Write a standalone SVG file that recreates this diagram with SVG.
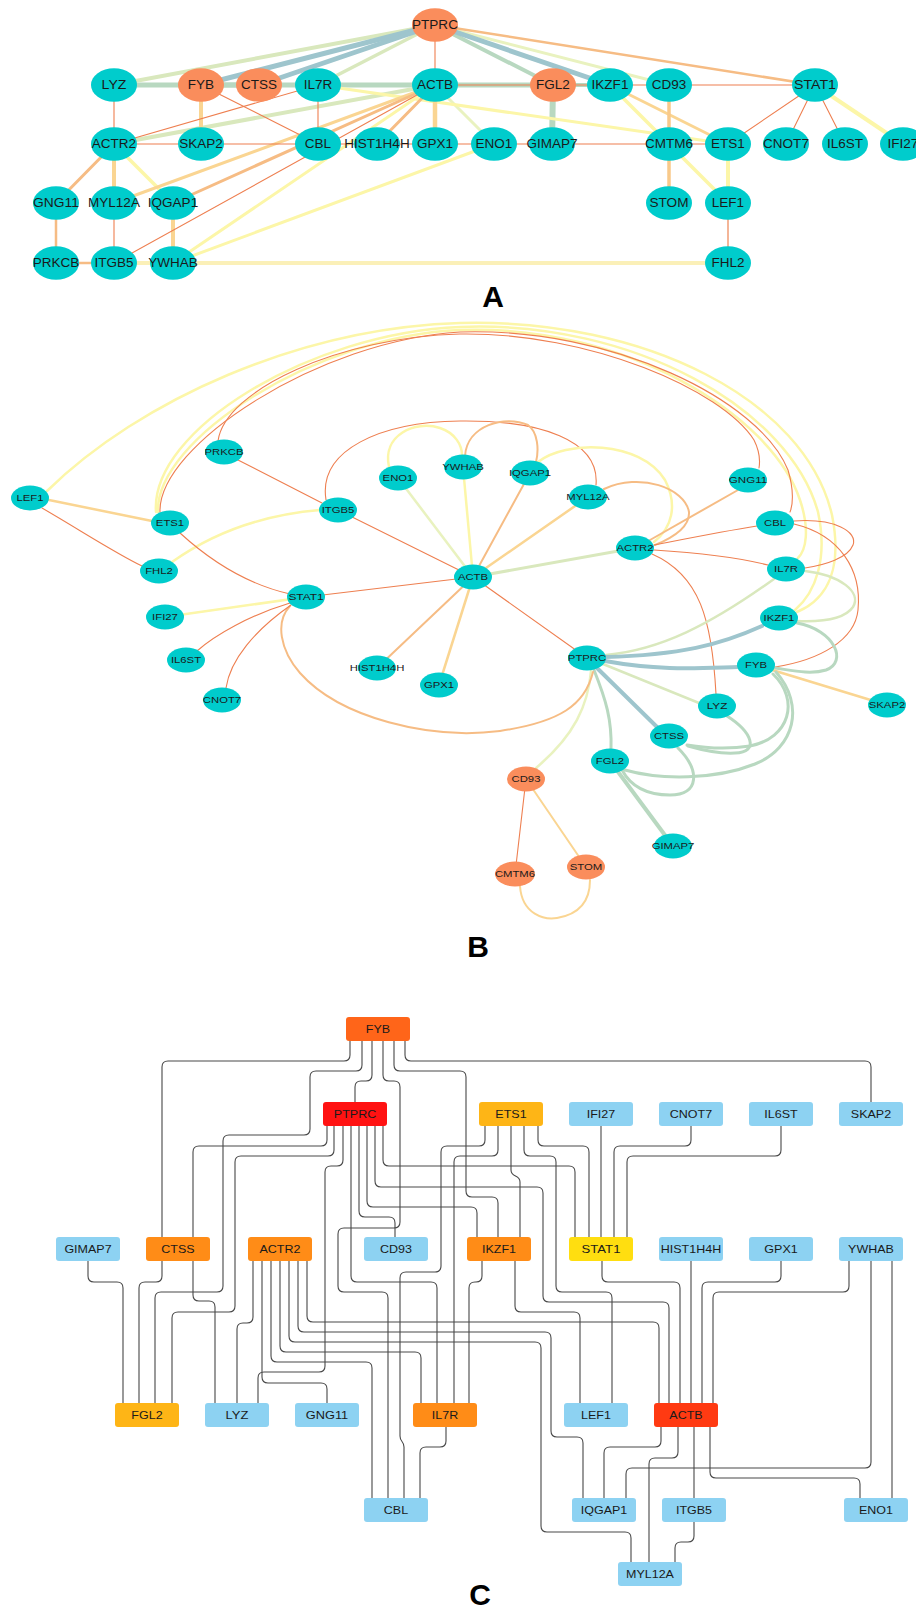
<svg xmlns="http://www.w3.org/2000/svg" width="916" height="1608" viewBox="0 0 916 1608">
<style>
.bg{fill:#ffffff}
.t{fill:#1a1a1a;text-anchor:middle;font-family:'Liberation Sans',Arial,sans-serif}
.ta{font-size:12px}
.tb{font-size:8.5px}
.tc{font-size:11px}
.lab{font-family:'Liberation Sans',Arial,sans-serif;font-weight:bold;font-size:30px;text-anchor:middle;fill:#000}
.nt{fill:#00CCCC}
.no{fill:#FA8D5C}
.e{fill:none;stroke-linecap:round}
.eb{stroke:#9EC5CD}
.eg{stroke:#B8D8C0}
.el{stroke:#D9E8BD}
.ey{stroke:#E9F2BF}
.ew{stroke:#FCF6A8}
.eo{stroke:#FAD592}
.ep{stroke:#F6BC84}
.et{stroke:#EE7F50;stroke-width:1.1}
.ce{fill:none;stroke:#484848;stroke-width:1.1}
.r1{fill:#FF6519}
.r2{fill:#FF1212}
.r3{fill:#FEB516}
.r4{fill:#FF8C17}
.r5{fill:#FFDE10}
.r6{fill:#FF3A12}
.r7{fill:#8DD2F2}
</style>
<rect class="bg" x="0" y="0" width="916" height="1608"/>

<!-- ================= PANEL A ================= -->
<g id="a-edges" class="e">
<line class="ep" x1="56" y1="203" x2="56" y2="263" stroke-width="2.5"/>
<line class="ep" x1="56" y1="263" x2="114" y2="263" stroke-width="2.5"/>
<line class="ew" x1="114" y1="263" x2="728" y2="263" stroke-width="4" style="stroke:#FBF0B8"/>
<line class="eo" x1="173" y1="203" x2="173" y2="263" stroke-width="4"/>
<line class="eg" x1="114" y1="85" x2="259" y2="85" stroke-width="5"/>
<line class="eg" x1="201" y1="85" x2="553" y2="85" stroke-width="5"/>
<line class="eg" x1="201" y1="85" x2="610" y2="85" stroke-width="4"/>
<line class="eg" x1="553" y1="85" x2="552" y2="144" stroke-width="6"/>
<line class="el" x1="435" y1="25" x2="114" y2="85" stroke-width="4"/>
<line class="el" x1="435" y1="25" x2="318" y2="85" stroke-width="3.5"/>
<line class="eg" x1="435" y1="25" x2="553" y2="85" stroke-width="4"/>
<line class="ey" x1="435" y1="25" x2="669" y2="85" stroke-width="3"/>
<line class="eb" x1="435" y1="25" x2="201" y2="85" stroke-width="5"/>
<line class="eb" x1="435" y1="25" x2="259" y2="85" stroke-width="5"/>
<line class="eb" x1="435" y1="25" x2="610" y2="85" stroke-width="5"/>
<line class="ep" x1="435" y1="25" x2="815" y2="85" stroke-width="2.5"/>
<line class="el" x1="114" y1="144" x2="435" y2="85" stroke-width="4"/>
<line class="ey" x1="435" y1="85" x2="494" y2="144" stroke-width="3"/>
<line class="ew" x1="318" y1="85" x2="728" y2="144" stroke-width="3"/>
<line class="ew" x1="610" y1="85" x2="728" y2="203" stroke-width="3.5"/>
<line class="eo" x1="610" y1="85" x2="728" y2="144" stroke-width="3"/>
<line class="ew" x1="728" y1="144" x2="728" y2="203" stroke-width="4"/>
<line class="ew" x1="815" y1="85" x2="903" y2="144" stroke-width="4"/>
<line class="ew" x1="114" y1="144" x2="173" y2="203" stroke-width="3.5"/>
<line class="ew" x1="435" y1="85" x2="173" y2="263" stroke-width="3"/>
<line class="ew" x1="173" y1="263" x2="494" y2="144" stroke-width="3"/>
<line class="eo" x1="201" y1="85" x2="201" y2="144" stroke-width="4"/>
<line class="eo" x1="435" y1="85" x2="435" y2="144" stroke-width="4.5"/>
<line class="eo" x1="114" y1="144" x2="114" y2="203" stroke-width="4"/>
<line class="eo" x1="435" y1="85" x2="114" y2="203" stroke-width="3"/>
<line class="eo" x1="669" y1="85" x2="669" y2="203" stroke-width="3.5" style="stroke:#F8C98A"/>
<line class="ep" x1="435" y1="85" x2="377" y2="144" stroke-width="3"/>
<line class="ep" x1="435" y1="85" x2="173" y2="203" stroke-width="3"/>
<line class="ep" x1="114" y1="144" x2="56" y2="203" stroke-width="3"/>
<line class="et" x1="435" y1="25" x2="435" y2="85"/>
<line class="et" x1="201" y1="85" x2="318" y2="144"/>
<line class="et" x1="318" y1="144" x2="728" y2="144"/>
<line class="et" x1="728" y1="144" x2="815" y2="85"/>
<line class="et" x1="786" y1="144" x2="815" y2="85"/>
<line class="et" x1="845" y1="144" x2="815" y2="85"/>
<line class="et" x1="114" y1="144" x2="114" y2="85"/>
<line class="et" x1="114" y1="144" x2="318" y2="144"/>
<line class="et" x1="114" y1="144" x2="318" y2="85"/>
<line class="et" x1="318" y1="85" x2="318" y2="144"/>
<line class="et" x1="435" y1="85" x2="815" y2="85"/>
<line class="et" x1="435" y1="85" x2="114" y2="263"/>
<line class="et" x1="114" y1="263" x2="114" y2="203"/>
<line class="et" x1="728" y1="203" x2="728" y2="263" style="stroke:#F2A37E;stroke-width:1.6"/>
</g>

<g id="a-ptprc"><ellipse class="no" cx="435" cy="25" rx="23" ry="16.7"/><text class="t ta" x="435" y="29.3" textLength="45.8" lengthAdjust="spacingAndGlyphs">PTPRC</text></g>
<g id="a-lyz"><ellipse class="nt" cx="114" cy="85" rx="23" ry="16.7"/><text class="t ta" x="114" y="89.3" textLength="24.8" lengthAdjust="spacingAndGlyphs">LYZ</text></g>
<g id="a-fyb"><ellipse class="no" cx="201" cy="85" rx="23" ry="16.7"/><text class="t ta" x="201" y="89.3" textLength="26.3" lengthAdjust="spacingAndGlyphs">FYB</text></g>
<g id="a-ctss"><ellipse class="no" cx="259" cy="85" rx="23" ry="16.7"/><text class="t ta" x="259" y="89.3" textLength="36" lengthAdjust="spacingAndGlyphs">CTSS</text></g>
<g id="a-il7r"><ellipse class="nt" cx="318" cy="85" rx="23" ry="16.7"/><text class="t ta" x="318" y="89.3" textLength="28.5" lengthAdjust="spacingAndGlyphs">IL7R</text></g>
<g id="a-actb"><ellipse class="nt" cx="435" cy="85" rx="23" ry="16.7"/><text class="t ta" x="435" y="89.3" textLength="36" lengthAdjust="spacingAndGlyphs">ACTB</text></g>
<g id="a-fgl2"><ellipse class="no" cx="553" cy="85" rx="23" ry="16.7"/><text class="t ta" x="553" y="89.3" textLength="33.8" lengthAdjust="spacingAndGlyphs">FGL2</text></g>
<g id="a-ikzf1"><ellipse class="nt" cx="610" cy="85" rx="23" ry="16.7"/><text class="t ta" x="610" y="89.3" textLength="36.8" lengthAdjust="spacingAndGlyphs">IKZF1</text></g>
<g id="a-cd93"><ellipse class="nt" cx="669" cy="85" rx="23" ry="16.7"/><text class="t ta" x="669" y="89.3" textLength="34.5" lengthAdjust="spacingAndGlyphs">CD93</text></g>
<g id="a-stat1"><ellipse class="nt" cx="815" cy="85" rx="23" ry="16.7"/><text class="t ta" x="815" y="89.3" textLength="42" lengthAdjust="spacingAndGlyphs">STAT1</text></g>
<g id="a-actr2"><ellipse class="nt" cx="114" cy="144" rx="23" ry="16.7"/><text class="t ta" x="114" y="148.3" textLength="44.3" lengthAdjust="spacingAndGlyphs">ACTR2</text></g>
<g id="a-skap2"><ellipse class="nt" cx="201" cy="144" rx="23" ry="16.7"/><text class="t ta" x="201" y="148.3" textLength="43.5" lengthAdjust="spacingAndGlyphs">SKAP2</text></g>
<g id="a-cbl"><ellipse class="nt" cx="318" cy="144" rx="23" ry="16.7"/><text class="t ta" x="318" y="148.3" textLength="26.3" lengthAdjust="spacingAndGlyphs">CBL</text></g>
<g id="a-hist1h4h"><ellipse class="nt" cx="377" cy="144" rx="23" ry="16.7"/><text class="t ta" x="377" y="148.3" textLength="65.3" lengthAdjust="spacingAndGlyphs">HIST1H4H</text></g>
<g id="a-gpx1"><ellipse class="nt" cx="435" cy="144" rx="23" ry="16.7"/><text class="t ta" x="435" y="148.3" textLength="36" lengthAdjust="spacingAndGlyphs">GPX1</text></g>
<g id="a-eno1"><ellipse class="nt" cx="494" cy="144" rx="23" ry="16.7"/><text class="t ta" x="494" y="148.3" textLength="36.8" lengthAdjust="spacingAndGlyphs">ENO1</text></g>
<g id="a-gimap7"><ellipse class="nt" cx="552" cy="144" rx="23" ry="16.7"/><text class="t ta" x="552" y="148.3" textLength="51" lengthAdjust="spacingAndGlyphs">GIMAP7</text></g>
<g id="a-cmtm6"><ellipse class="nt" cx="669" cy="144" rx="23" ry="16.7"/><text class="t ta" x="669" y="148.3" textLength="48" lengthAdjust="spacingAndGlyphs">CMTM6</text></g>
<g id="a-ets1"><ellipse class="nt" cx="728" cy="144" rx="23" ry="16.7"/><text class="t ta" x="728" y="148.3" textLength="33.8" lengthAdjust="spacingAndGlyphs">ETS1</text></g>
<g id="a-cnot7"><ellipse class="nt" cx="786" cy="144" rx="23" ry="16.7"/><text class="t ta" x="786" y="148.3" textLength="45.8" lengthAdjust="spacingAndGlyphs">CNOT7</text></g>
<g id="a-il6st"><ellipse class="nt" cx="845" cy="144" rx="23" ry="16.7"/><text class="t ta" x="845" y="148.3" textLength="36" lengthAdjust="spacingAndGlyphs">IL6ST</text></g>
<g id="a-ifi27"><ellipse class="nt" cx="903" cy="144" rx="23" ry="16.7"/><text class="t ta" x="903" y="148.3" textLength="30.8" lengthAdjust="spacingAndGlyphs">IFI27</text></g>
<g id="a-gng11"><ellipse class="nt" cx="56" cy="203" rx="23" ry="16.7"/><text class="t ta" x="56" y="207.3" textLength="45.8" lengthAdjust="spacingAndGlyphs">GNG11</text></g>
<g id="a-myl12a"><ellipse class="nt" cx="114" cy="203" rx="23" ry="16.7"/><text class="t ta" x="114" y="207.3" textLength="51.8" lengthAdjust="spacingAndGlyphs">MYL12A</text></g>
<g id="a-iqgap1"><ellipse class="nt" cx="173" cy="203" rx="23" ry="16.7"/><text class="t ta" x="173" y="207.3" textLength="50.3" lengthAdjust="spacingAndGlyphs">IQGAP1</text></g>
<g id="a-stom"><ellipse class="nt" cx="669" cy="203" rx="23" ry="16.7"/><text class="t ta" x="669" y="207.3" textLength="39" lengthAdjust="spacingAndGlyphs">STOM</text></g>
<g id="a-lef1"><ellipse class="nt" cx="728" cy="203" rx="23" ry="16.7"/><text class="t ta" x="728" y="207.3" textLength="32.3" lengthAdjust="spacingAndGlyphs">LEF1</text></g>
<g id="a-prkcb"><ellipse class="nt" cx="56" cy="263" rx="23" ry="16.7"/><text class="t ta" x="56" y="267.3" textLength="46.5" lengthAdjust="spacingAndGlyphs">PRKCB</text></g>
<g id="a-itgb5"><ellipse class="nt" cx="114" cy="263" rx="23" ry="16.7"/><text class="t ta" x="114" y="267.3" textLength="39" lengthAdjust="spacingAndGlyphs">ITGB5</text></g>
<g id="a-ywhab"><ellipse class="nt" cx="173" cy="263" rx="23" ry="16.7"/><text class="t ta" x="173" y="267.3" textLength="49.5" lengthAdjust="spacingAndGlyphs">YWHAB</text></g>
<g id="a-fhl2"><ellipse class="nt" cx="728" cy="263" rx="23" ry="16.7"/><text class="t ta" x="728" y="267.3" textLength="33" lengthAdjust="spacingAndGlyphs">FHL2</text></g>
<text class="lab" x="493" y="307">A</text>

<!-- ================= PANEL B ================= -->
<g id="b-edges" class="e">
<path class="ew" stroke-width="2.5" d="M47,491 C140,400 300,328 460,323 C645,318 805,400 832,515 C842,565 830,598 797,612"/>
<path class="ew" stroke-width="2.5" d="M156,512 C150,430 310,333 460,327 C635,320 790,410 818,512 C828,558 816,592 795,610"/>
<path class="ew" stroke-width="2.5" d="M158,512 C155,440 315,336 460,330 C625,324 772,415 800,500 C810,530 806,550 798,558"/>
<path class="et" d="M160,512 C158,445 320,340 460,332 C612,327 760,400 788,470 C794,490 793,505 790,512"/>
<path class="et" d="M218,441 C225,390 340,337 460,334 C590,332 722,390 754,440 C760,452 760,462 759,468"/>
<path class="eo" stroke-width="2.5" d="M49,500 L152,521"/>
<path class="et" d="M42,508 C80,530 115,553 142,566"/>
<path class="ew" stroke-width="2.5" d="M172,562 C210,535 260,515 320,510"/>
<path class="et" d="M238,460 L322,503"/>
<path class="et" d="M338,510 L473,577"/>
<path class="et" d="M326,500 C318,450 380,422 460,421 C540,420 600,440 596,485"/>
<path class="ey" stroke-width="2.5" d="M398,478 L473,577"/>
<path class="ew" stroke-width="2.5" d="M389,467 C382,435 415,420 440,428 C455,433 462,445 462,455"/>
<path class="ew" stroke-width="2.5" d="M463,467 L473,577"/>
<path class="ep" stroke-width="2" d="M465,456 C467,425 505,415 528,425 C538,432 539,450 536,462"/>
<path class="ep" stroke-width="2" d="M530,473 L473,577"/>
<path class="eo" stroke-width="2.5" d="M588,497 L473,577"/>
<path class="el" stroke-width="3" d="M635,548 L473,577"/>
<path class="ew" stroke-width="2.5" d="M538,462 C565,440 640,440 665,480 C678,505 672,528 654,542"/>
<path class="ep" stroke-width="2" d="M604,489 C640,472 685,488 689,512 C690,528 672,538 655,545"/>
<path class="ep" stroke-width="2" d="M650,540 L738,490"/>
<path class="et" d="M654,545 C690,538 725,531 757,526"/>
<path class="et" d="M654,550 C700,553 740,558 768,565"/>
<path class="et" d="M652,554 C700,575 712,620 716,694"/>
<path class="et" d="M794,521 C835,518 858,532 853,545 C848,558 825,565 805,568"/>
<path class="et" d="M794,524 C840,535 862,570 858,610 C855,640 820,660 775,667"/>
<path class="el" stroke-width="2.5" d="M805,571 C840,575 862,592 853,607 C844,620 820,622 797,621"/>
<path class="eg" stroke-width="3" d="M797,623 C835,630 848,662 826,670 C810,675 790,670 775,668"/>
<path class="el" stroke-width="2.5" d="M606,655 C660,650 710,625 774,579"/>
<path class="el" stroke-width="2.5" d="M603,664 L699,703"/>
<path class="eg" stroke-width="3" d="M594,670 C606,700 612,720 611,749"/>
<path class="ey" stroke-width="2.5" d="M591,671 C588,705 575,735 536,768"/>
<path class="ep" stroke-width="2" d="M593,672 C585,705 560,722 500,731 C430,740 340,718 300,673 C280,650 275,622 290,606"/>
<path class="et" d="M587,658 L473,577"/>
<path class="eo" stroke-width="2.5" d="M756,665 L887,705"/>
<path class="eg" stroke-width="3" d="M773,674 C800,700 790,738 750,746 C725,750 705,748 687,745"/>
<path class="eg" stroke-width="3" d="M776,672 C805,705 795,748 755,764 C715,780 660,780 625,770"/>
<path class="eg" stroke-width="3" d="M727,716 C752,732 760,752 735,753 C718,754 702,750 688,746"/>
<path class="eg" stroke-width="3" d="M678,748 C700,770 700,795 670,795 C645,795 630,785 622,770"/>
<path class="eg" stroke-width="4" d="M610,761 L673,846"/>
<path class="eb" stroke-width="4" d="M605,657 C680,655 720,645 762,626"/>
<path class="eb" stroke-width="4" d="M605,661 C660,671 700,668 738,667"/>
<path class="eb" stroke-width="4" d="M597,668 L657,727"/>
<path class="et" d="M306,597 L473,577"/>
<path class="ep" stroke-width="2" d="M473,577 L377,668"/>
<path class="eo" stroke-width="2.5" d="M473,577 L439,685"/>
<path class="et" d="M180,533 C215,565 250,585 290,594"/>
<path class="ew" stroke-width="2.5" d="M306,597 L165,617"/>
<path class="et" d="M290,603 C250,615 215,635 197,651"/>
<path class="et" d="M291,605 C255,630 230,660 226,688"/>
<path class="et" d="M526,779 L515,874"/>
<path class="eo" stroke-width="2" d="M526,779 L586,867"/>
<path class="eo" stroke-width="2" d="M520,886 C522,915 545,920 557,918 C575,915 590,905 590,880"/>
</g>

<g id="b-lef1"><ellipse class="nt" cx="30" cy="498" rx="19" ry="12.5"/><text class="t tb" x="30" y="501" textLength="27" lengthAdjust="spacingAndGlyphs">LEF1</text></g>
<g id="b-ets1"><ellipse class="nt" cx="170" cy="523" rx="19" ry="12.5"/><text class="t tb" x="170" y="526" textLength="28.3" lengthAdjust="spacingAndGlyphs">ETS1</text></g>
<g id="b-fhl2"><ellipse class="nt" cx="159" cy="571" rx="19" ry="12.5"/><text class="t tb" x="159" y="574" textLength="27.6" lengthAdjust="spacingAndGlyphs">FHL2</text></g>
<g id="b-prkcb"><ellipse class="nt" cx="224" cy="452" rx="19" ry="12.5"/><text class="t tb" x="224" y="455" textLength="38.9" lengthAdjust="spacingAndGlyphs">PRKCB</text></g>
<g id="b-itgb5"><ellipse class="nt" cx="338" cy="510" rx="19" ry="12.5"/><text class="t tb" x="338" y="513" textLength="32.7" lengthAdjust="spacingAndGlyphs">ITGB5</text></g>
<g id="b-eno1"><ellipse class="nt" cx="398" cy="478" rx="19" ry="12.5"/><text class="t tb" x="398" y="481" textLength="30.8" lengthAdjust="spacingAndGlyphs">ENO1</text></g>
<g id="b-ywhab"><ellipse class="nt" cx="463" cy="467" rx="19" ry="12.5"/><text class="t tb" x="463" y="470" textLength="41.4" lengthAdjust="spacingAndGlyphs">YWHAB</text></g>
<g id="b-iqgap1"><ellipse class="nt" cx="530" cy="473" rx="19" ry="12.5"/><text class="t tb" x="530" y="476" textLength="42.1" lengthAdjust="spacingAndGlyphs">IQGAP1</text></g>
<g id="b-myl12a"><ellipse class="nt" cx="588" cy="497" rx="19" ry="12.5"/><text class="t tb" x="588" y="500" textLength="43.3" lengthAdjust="spacingAndGlyphs">MYL12A</text></g>
<g id="b-gng11"><ellipse class="nt" cx="748" cy="480" rx="19" ry="12.5"/><text class="t tb" x="748" y="483" textLength="38.3" lengthAdjust="spacingAndGlyphs">GNG11</text></g>
<g id="b-cbl"><ellipse class="nt" cx="775" cy="523" rx="19" ry="12.5"/><text class="t tb" x="775" y="526" textLength="22" lengthAdjust="spacingAndGlyphs">CBL</text></g>
<g id="b-actr2"><ellipse class="nt" cx="635" cy="548" rx="19" ry="12.5"/><text class="t tb" x="635" y="551" textLength="37" lengthAdjust="spacingAndGlyphs">ACTR2</text></g>
<g id="b-il7r"><ellipse class="nt" cx="786" cy="569" rx="19" ry="12.5"/><text class="t tb" x="786" y="572" textLength="23.9" lengthAdjust="spacingAndGlyphs">IL7R</text></g>
<g id="b-actb"><ellipse class="nt" cx="473" cy="577" rx="19" ry="12.5"/><text class="t tb" x="473" y="580" textLength="30.1" lengthAdjust="spacingAndGlyphs">ACTB</text></g>
<g id="b-stat1"><ellipse class="nt" cx="306" cy="597" rx="19" ry="12.5"/><text class="t tb" x="306" y="600" textLength="35.2" lengthAdjust="spacingAndGlyphs">STAT1</text></g>
<g id="b-ifi27"><ellipse class="nt" cx="165" cy="617" rx="19" ry="12.5"/><text class="t tb" x="165" y="620" textLength="25.8" lengthAdjust="spacingAndGlyphs">IFI27</text></g>
<g id="b-il6st"><ellipse class="nt" cx="186" cy="660" rx="19" ry="12.5"/><text class="t tb" x="186" y="663" textLength="30.1" lengthAdjust="spacingAndGlyphs">IL6ST</text></g>
<g id="b-cnot7"><ellipse class="nt" cx="222" cy="700" rx="19" ry="12.5"/><text class="t tb" x="222" y="703" textLength="38.3" lengthAdjust="spacingAndGlyphs">CNOT7</text></g>
<g id="b-hist1h4h"><ellipse class="nt" cx="377" cy="668" rx="19" ry="12.5"/><text class="t tb" x="377" y="671" textLength="54.6" lengthAdjust="spacingAndGlyphs">HIST1H4H</text></g>
<g id="b-gpx1"><ellipse class="nt" cx="439" cy="685" rx="19" ry="12.5"/><text class="t tb" x="439" y="688" textLength="30.1" lengthAdjust="spacingAndGlyphs">GPX1</text></g>
<g id="b-ptprc"><ellipse class="nt" cx="587" cy="658" rx="19" ry="12.5"/><text class="t tb" x="587" y="661" textLength="38.3" lengthAdjust="spacingAndGlyphs">PTPRC</text></g>
<g id="b-ikzf1"><ellipse class="nt" cx="779" cy="618" rx="19" ry="12.5"/><text class="t tb" x="779" y="621" textLength="30.8" lengthAdjust="spacingAndGlyphs">IKZF1</text></g>
<g id="b-fyb"><ellipse class="nt" cx="756" cy="665" rx="19" ry="12.5"/><text class="t tb" x="756" y="668" textLength="22" lengthAdjust="spacingAndGlyphs">FYB</text></g>
<g id="b-skap2"><ellipse class="nt" cx="887" cy="705" rx="19" ry="12.5"/><text class="t tb" x="887" y="708" textLength="36.4" lengthAdjust="spacingAndGlyphs">SKAP2</text></g>
<g id="b-lyz"><ellipse class="nt" cx="717" cy="706" rx="19" ry="12.5"/><text class="t tb" x="717" y="709" textLength="20.7" lengthAdjust="spacingAndGlyphs">LYZ</text></g>
<g id="b-ctss"><ellipse class="nt" cx="669" cy="736" rx="19" ry="12.5"/><text class="t tb" x="669" y="739" textLength="30.1" lengthAdjust="spacingAndGlyphs">CTSS</text></g>
<g id="b-fgl2"><ellipse class="nt" cx="610" cy="761" rx="19" ry="12.5"/><text class="t tb" x="610" y="764" textLength="28.3" lengthAdjust="spacingAndGlyphs">FGL2</text></g>
<g id="b-cd93"><ellipse class="no" cx="526" cy="779" rx="19" ry="12.5"/><text class="t tb" x="526" y="782" textLength="28.9" lengthAdjust="spacingAndGlyphs">CD93</text></g>
<g id="b-gimap7"><ellipse class="nt" cx="673" cy="846" rx="19" ry="12.5"/><text class="t tb" x="673" y="849" textLength="42.7" lengthAdjust="spacingAndGlyphs">GIMAP7</text></g>
<g id="b-cmtm6"><ellipse class="no" cx="515" cy="874" rx="20" ry="12.5"/><text class="t tb" x="515" y="877" textLength="40.2" lengthAdjust="spacingAndGlyphs">CMTM6</text></g>
<g id="b-stom"><ellipse class="no" cx="586" cy="867" rx="19" ry="12.5"/><text class="t tb" x="586" y="870" textLength="32.6" lengthAdjust="spacingAndGlyphs">STOM</text></g>
<text class="lab" x="478" y="957">B</text>

<!-- ================= PANEL C ================= -->
<g id="c-edges">
<path class="ce" d="M350,1041 L350,1055 Q350,1061 344,1061 L168,1061 Q162,1061 162,1067 L162,1237"/>
<path class="ce" d="M362,1041 L362,1065 Q362,1071 356,1071 L316,1071 Q310,1071 310,1077 L310,1129 Q310,1135 304,1135 L229,1135 Q223,1135 223,1141 L223,1286 Q223,1292 217,1292 L161,1292 Q155,1292 155,1298 L155,1403"/>
<path class="ce" d="M372,1041 L372,1075 Q372,1081 366,1081 L361,1081 Q355,1081 355,1087 L355,1102"/>
<path class="ce" d="M383,1041 L383,1075 Q383,1081 389,1081 L394,1081 Q400,1081 400,1087 L400,1222 Q400,1228 394,1228 L344,1228 Q338,1228 338,1234 L338,1286 Q338,1292 344,1292 L382,1292 Q388,1292 388,1298 L388,1498"/>
<path class="ce" d="M394,1041 L394,1065 Q394,1071 400,1071 L460,1071 Q466,1071 466,1077 L466,1191 Q466,1197 472,1197 L492,1197 Q498,1197 498,1203 L498,1237"/>
<path class="ce" d="M405,1041 L405,1055 Q405,1061 411,1061 L865,1061 Q871,1061 871,1067 L871,1102"/>
<path class="ce" d="M327,1126 L327,1140 Q327,1146 321,1146 L199,1146 Q193,1146 193,1152 L193,1237"/>
<path class="ce" d="M334,1126 L334,1150 Q334,1156 328,1156 L241,1156 Q235,1156 235,1162 L235,1306 Q235,1312 229,1312 L178,1312 Q172,1312 172,1318 L172,1403"/>
<path class="ce" d="M343,1126 L343,1160 Q343,1166 337,1166 L331,1166 Q325,1166 325,1172 L325,1366 Q325,1372 319,1372 L264,1372 Q258,1372 258,1378 L258,1403"/>
<path class="ce" d="M351,1126 L351,1276 Q351,1282 357,1282 L431,1282 Q437,1282 437,1288 L437,1403"/>
<path class="ce" d="M359,1126 L359,1211 Q359,1217 365,1217 L389,1217 Q395,1217 395,1223 L395,1237"/>
<path class="ce" d="M367,1126 L367,1201 Q367,1207 373,1207 L471,1207 Q477,1207 477,1213 L477,1237"/>
<path class="ce" d="M375,1126 L375,1181 Q375,1187 381,1187 L537,1187 Q543,1187 543,1193 L543,1296 Q543,1302 549,1302 L663,1302 Q669,1302 669,1308 L669,1403"/>
<path class="ce" d="M383,1126 L383,1160 Q383,1166 389,1166 L569,1166 Q575,1166 575,1172 L575,1237"/>
<path class="ce" d="M485,1126 L485,1140 Q485,1146 479,1146 L447,1146 Q441,1146 441,1152 L441,1266 Q441,1272 435,1272 L406,1272 Q400,1272 400,1278 L400,1436 C400,1442 404,1441 404,1447 L404,1498"/>
<path class="ce" d="M498,1126 L498,1150 Q498,1156 492,1156 L460,1156 Q454,1156 454,1162 L454,1403"/>
<path class="ce" d="M511,1126 L511,1170 C511,1178 520,1174 520,1182 L520,1237"/>
<path class="ce" d="M524,1126 L524,1150 Q524,1156 530,1156 L550,1156 Q556,1156 556,1162 L556,1286 Q556,1292 562,1292 L606,1292 Q612,1292 612,1298 L612,1403"/>
<path class="ce" d="M538,1126 L538,1140 Q538,1146 544,1146 L583,1146 Q589,1146 589,1152 L589,1237"/>
<path class="ce" d="M601,1126 L601,1237"/>
<path class="ce" d="M691,1126 L691,1140 Q691,1146 685,1146 L620,1146 Q614,1146 614,1152 L614,1237"/>
<path class="ce" d="M781,1126 L781,1150 Q781,1156 775,1156 L633,1156 Q627,1156 627,1162 L627,1237"/>
<path class="ce" d="M88,1261 L88,1276 Q88,1282 94,1282 L117,1282 Q123,1282 123,1288 L123,1403"/>
<path class="ce" d="M162,1261 L162,1276 Q162,1282 156,1282 L145,1282 Q139,1282 139,1288 L139,1403"/>
<path class="ce" d="M193,1261 L193,1295 Q193,1301 199,1301 L209,1301 Q215,1301 215,1307 L215,1403"/>
<path class="ce" d="M253,1261 L253,1317 Q253,1323 247,1323 L243,1323 Q237,1323 237,1329 L237,1403"/>
<path class="ce" d="M262,1261 L262,1377 Q262,1383 268,1383 L321,1383 Q327,1383 327,1389 L327,1403"/>
<path class="ce" d="M271,1261 L271,1356 Q271,1362 277,1362 L366,1362 Q372,1362 372,1368 L372,1498"/>
<path class="ce" d="M280,1261 L280,1346 Q280,1352 286,1352 L415,1352 Q421,1352 421,1358 L421,1403"/>
<path class="ce" d="M289,1261 L289,1336 Q289,1342 295,1342 L535,1342 Q541,1342 541,1348 L541,1526 Q541,1532 547,1532 L625,1532 Q631,1532 631,1538 L631,1562"/>
<path class="ce" d="M298,1261 L298,1326 Q298,1332 304,1332 L545,1332 Q551,1332 551,1338 L551,1431 Q551,1437 557,1437 L577,1437 Q583,1437 583,1443 L583,1498"/>
<path class="ce" d="M307,1261 L307,1316 Q307,1322 313,1322 L653,1322 Q659,1322 659,1328 L659,1403"/>
<path class="ce" d="M482,1261 L482,1276 Q482,1282 476,1282 L475,1282 Q469,1282 469,1288 L469,1403"/>
<path class="ce" d="M515,1261 L515,1306 Q515,1312 521,1312 L574,1312 Q580,1312 580,1318 L580,1403"/>
<path class="ce" d="M602,1261 L602,1276 Q602,1282 608,1282 L674,1282 Q680,1282 680,1288 L680,1403"/>
<path class="ce" d="M691,1261 L691,1403"/>
<path class="ce" d="M781,1261 L781,1276 Q781,1282 775,1282 L708,1282 Q702,1282 702,1288 L702,1403"/>
<path class="ce" d="M849,1261 L849,1286 Q849,1292 843,1292 L719,1292 Q713,1292 713,1298 L713,1403"/>
<path class="ce" d="M871,1261 L871,1462 Q871,1468 865,1468 L632,1468 Q626,1468 626,1474 L626,1498"/>
<path class="ce" d="M892,1261 L892,1498"/>
<path class="ce" d="M446,1427 L446,1441 Q446,1447 440,1447 L426,1447 Q420,1447 420,1453 L420,1498"/>
<path class="ce" d="M661,1427 L661,1441 Q661,1447 655,1447 L610,1447 Q604,1447 604,1453 L604,1498"/>
<path class="ce" d="M678,1427 L678,1452 Q678,1458 672,1458 L655,1458 Q649,1458 649,1464 L649,1562"/>
<path class="ce" d="M694,1427 L694,1498"/>
<path class="ce" d="M710,1427 L710,1472 Q710,1478 716,1478 L854,1478 Q860,1478 860,1484 L860,1498"/>
<path class="ce" d="M694,1522 L694,1536 Q694,1542 688,1542 L681,1542 Q675,1542 675,1548 L675,1562"/>
</g>

<g id="c-fyb"><rect class="r1" x="346" y="1017" width="64" height="24" rx="3"/><text class="t tc" x="378" y="1033" textLength="24.3" lengthAdjust="spacingAndGlyphs">FYB</text></g>
<g id="c-ptprc"><rect class="r2" x="323" y="1102" width="64" height="24" rx="3"/><text class="t tc" x="355" y="1118" textLength="42.4" lengthAdjust="spacingAndGlyphs">PTPRC</text></g>
<g id="c-ets1"><rect class="r3" x="479" y="1102" width="64" height="24" rx="3"/><text class="t tc" x="511" y="1118" textLength="31.3" lengthAdjust="spacingAndGlyphs">ETS1</text></g>
<g id="c-ifi27"><rect class="r7" x="569" y="1102" width="64" height="24" rx="3"/><text class="t tc" x="601" y="1118" textLength="28.5" lengthAdjust="spacingAndGlyphs">IFI27</text></g>
<g id="c-cnot7"><rect class="r7" x="659" y="1102" width="64" height="24" rx="3"/><text class="t tc" x="691" y="1118" textLength="42.4" lengthAdjust="spacingAndGlyphs">CNOT7</text></g>
<g id="c-il6st"><rect class="r7" x="749" y="1102" width="64" height="24" rx="3"/><text class="t tc" x="781" y="1118" textLength="33.4" lengthAdjust="spacingAndGlyphs">IL6ST</text></g>
<g id="c-skap2"><rect class="r7" x="839" y="1102" width="64" height="24" rx="3"/><text class="t tc" x="871" y="1118" textLength="40.3" lengthAdjust="spacingAndGlyphs">SKAP2</text></g>
<g id="c-gimap7"><rect class="r7" x="56" y="1237" width="64" height="24" rx="3"/><text class="t tc" x="88" y="1253" textLength="47.2" lengthAdjust="spacingAndGlyphs">GIMAP7</text></g>
<g id="c-ctss"><rect class="r4" x="146" y="1237" width="64" height="24" rx="3"/><text class="t tc" x="178" y="1253" textLength="33.3" lengthAdjust="spacingAndGlyphs">CTSS</text></g>
<g id="c-actr2"><rect class="r4" x="248" y="1237" width="64" height="24" rx="3"/><text class="t tc" x="280" y="1253" textLength="41" lengthAdjust="spacingAndGlyphs">ACTR2</text></g>
<g id="c-cd93"><rect class="r7" x="364" y="1237" width="64" height="24" rx="3"/><text class="t tc" x="396" y="1253" textLength="32" lengthAdjust="spacingAndGlyphs">CD93</text></g>
<g id="c-ikzf1"><rect class="r4" x="467" y="1237" width="64" height="24" rx="3"/><text class="t tc" x="499" y="1253" textLength="34" lengthAdjust="spacingAndGlyphs">IKZF1</text></g>
<g id="c-stat1"><rect class="r5" x="569" y="1237" width="64" height="24" rx="3"/><text class="t tc" x="601" y="1253" textLength="38.9" lengthAdjust="spacingAndGlyphs">STAT1</text></g>
<g id="c-hist1h4h"><rect class="r7" x="659" y="1237" width="64" height="24" rx="3"/><text class="t tc" x="691" y="1253" textLength="60.4" lengthAdjust="spacingAndGlyphs">HIST1H4H</text></g>
<g id="c-gpx1"><rect class="r7" x="749" y="1237" width="64" height="24" rx="3"/><text class="t tc" x="781" y="1253" textLength="33.4" lengthAdjust="spacingAndGlyphs">GPX1</text></g>
<g id="c-ywhab"><rect class="r7" x="839" y="1237" width="64" height="24" rx="3"/><text class="t tc" x="871" y="1253" textLength="45.8" lengthAdjust="spacingAndGlyphs">YWHAB</text></g>
<g id="c-fgl2"><rect class="r3" x="115" y="1403" width="64" height="24" rx="3"/><text class="t tc" x="147" y="1419" textLength="31.3" lengthAdjust="spacingAndGlyphs">FGL2</text></g>
<g id="c-lyz"><rect class="r7" x="205" y="1403" width="64" height="24" rx="3"/><text class="t tc" x="237" y="1419" textLength="22.9" lengthAdjust="spacingAndGlyphs">LYZ</text></g>
<g id="c-gng11"><rect class="r7" x="295" y="1403" width="64" height="24" rx="3"/><text class="t tc" x="327" y="1419" textLength="42.4" lengthAdjust="spacingAndGlyphs">GNG11</text></g>
<g id="c-il7r"><rect class="r4" x="413" y="1403" width="64" height="24" rx="3"/><text class="t tc" x="445" y="1419" textLength="26.4" lengthAdjust="spacingAndGlyphs">IL7R</text></g>
<g id="c-lef1"><rect class="r7" x="564" y="1403" width="64" height="24" rx="3"/><text class="t tc" x="596" y="1419" textLength="29.9" lengthAdjust="spacingAndGlyphs">LEF1</text></g>
<g id="c-actb"><rect class="r6" x="654" y="1403" width="64" height="24" rx="3"/><text class="t tc" x="686" y="1419" textLength="33.3" lengthAdjust="spacingAndGlyphs">ACTB</text></g>
<g id="c-cbl"><rect class="r7" x="364" y="1498" width="64" height="24" rx="3"/><text class="t tc" x="396" y="1514" textLength="24.3" lengthAdjust="spacingAndGlyphs">CBL</text></g>
<g id="c-iqgap1"><rect class="r7" x="572" y="1498" width="64" height="24" rx="3"/><text class="t tc" x="604" y="1514" textLength="46.6" lengthAdjust="spacingAndGlyphs">IQGAP1</text></g>
<g id="c-itgb5"><rect class="r7" x="662" y="1498" width="64" height="24" rx="3"/><text class="t tc" x="694" y="1514" textLength="36.1" lengthAdjust="spacingAndGlyphs">ITGB5</text></g>
<g id="c-eno1"><rect class="r7" x="844" y="1498" width="64" height="24" rx="3"/><text class="t tc" x="876" y="1514" textLength="34" lengthAdjust="spacingAndGlyphs">ENO1</text></g>
<g id="c-myl12a"><rect class="r7" x="618" y="1562" width="64" height="24" rx="3"/><text class="t tc" x="650" y="1578" textLength="47.9" lengthAdjust="spacingAndGlyphs">MYL12A</text></g>
<text class="lab" x="480" y="1605">C</text>
</svg>
